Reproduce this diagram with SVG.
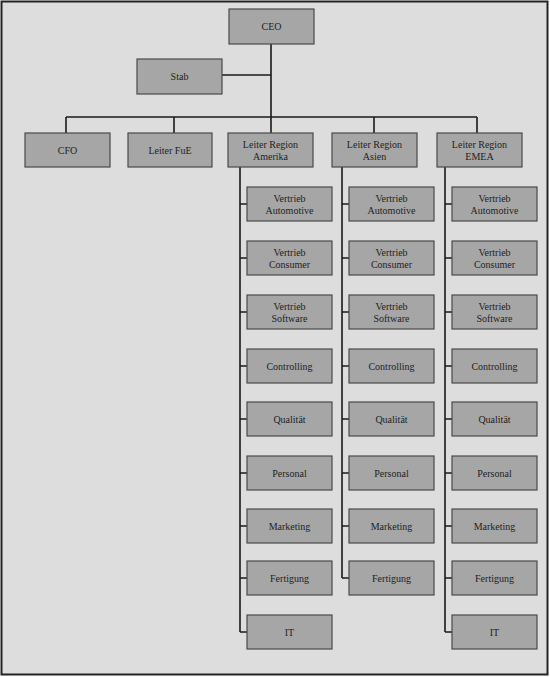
<svg xmlns="http://www.w3.org/2000/svg" width="550" height="677" viewBox="0 0 550 677">
<style>
.bx{fill:#a6a6a6;stroke:#4a4a4a;stroke-width:1.2}
.t{font-family:'Liberation Serif',serif;font-size:10px;fill:#1e1e1e;text-anchor:middle}
.ln{stroke:#1a1a1a;stroke-width:1.6;fill:none}
</style>
<rect x="1.5" y="1.5" width="546" height="673" fill="#dddddd" stroke="#222" stroke-width="2"/>
<g id="connectors" class="ln">
<path d="M271 44V133M222 75H271M66 117H477M66 117V133M174 117V133M374 117V133M477 117V133"/>
<path d="M240 167V632M342 167V578M445 167V632"/>
<path d="M240 204H247M240 258H247M240 312H247M240 366H247M240 419H247M240 473H247M240 526H247M240 578H247M240 632H247"/>
<path d="M342 204H349M342 258H349M342 312H349M342 366H349M342 419H349M342 473H349M342 526H349M342 578H349"/>
<path d="M445 204H452M445 258H452M445 312H452M445 366H452M445 419H452M445 473H452M445 526H452M445 578H452M445 632H452"/>
</g>
<g font-family="Liberation Serif, serif">
<g id="ceo"><rect class="bx" x="229" y="9" width="85" height="35"/><text class="t" x="271.5" y="30">CEO</text></g>
<g id="stab"><rect class="bx" x="137" y="59" width="85" height="35"/><text class="t" x="179.5" y="80">Stab</text></g>
<g id="cfo"><rect class="bx" x="25" y="133" width="85" height="34"/><text class="t" x="67.5" y="154">CFO</text></g>
<g id="fue"><rect class="bx" x="128" y="133" width="84" height="34"/><text class="t" x="170" y="154">Leiter FuE</text></g>
<g id="amerika"><rect class="bx" x="228" y="133" width="85" height="34"/><text class="t" x="270.5" y="148">Leiter Region</text><text class="t" x="270.5" y="160">Amerika</text></g>
<g id="asien"><rect class="bx" x="332" y="133" width="85" height="34"/><text class="t" x="374.5" y="148">Leiter Region</text><text class="t" x="374.5" y="160">Asien</text></g>
<g id="emea"><rect class="bx" x="437" y="133" width="85" height="34"/><text class="t" x="479.5" y="148">Leiter Region</text><text class="t" x="479.5" y="160">EMEA</text></g>

<g id="am-automotive"><rect class="bx" x="247" y="187" width="85" height="34"/><text class="t" x="289.5" y="202">Vertrieb</text><text class="t" x="289.5" y="214">Automotive</text></g>
<g id="am-consumer"><rect class="bx" x="247" y="241" width="85" height="34"/><text class="t" x="289.5" y="256">Vertrieb</text><text class="t" x="289.5" y="268">Consumer</text></g>
<g id="am-software"><rect class="bx" x="247" y="295" width="85" height="34"/><text class="t" x="289.5" y="310">Vertrieb</text><text class="t" x="289.5" y="322">Software</text></g>
<g id="am-controlling"><rect class="bx" x="247" y="349" width="85" height="34"/><text class="t" x="289.5" y="369.5">Controlling</text></g>
<g id="am-qualitaet"><rect class="bx" x="247" y="402" width="85" height="34"/><text class="t" x="289.5" y="422.5">Qualität</text></g>
<g id="am-personal"><rect class="bx" x="247" y="456" width="85" height="34"/><text class="t" x="289.5" y="476.5">Personal</text></g>
<g id="am-marketing"><rect class="bx" x="247" y="509" width="85" height="34"/><text class="t" x="289.5" y="529.5">Marketing</text></g>
<g id="am-fertigung"><rect class="bx" x="247" y="561" width="85" height="34"/><text class="t" x="289.5" y="581.5">Fertigung</text></g>
<g id="am-it"><rect class="bx" x="247" y="615" width="85" height="34"/><text class="t" x="289.5" y="635.5">IT</text></g>

<g id="as-automotive"><rect class="bx" x="349" y="187" width="85" height="34"/><text class="t" x="391.5" y="202">Vertrieb</text><text class="t" x="391.5" y="214">Automotive</text></g>
<g id="as-consumer"><rect class="bx" x="349" y="241" width="85" height="34"/><text class="t" x="391.5" y="256">Vertrieb</text><text class="t" x="391.5" y="268">Consumer</text></g>
<g id="as-software"><rect class="bx" x="349" y="295" width="85" height="34"/><text class="t" x="391.5" y="310">Vertrieb</text><text class="t" x="391.5" y="322">Software</text></g>
<g id="as-controlling"><rect class="bx" x="349" y="349" width="85" height="34"/><text class="t" x="391.5" y="369.5">Controlling</text></g>
<g id="as-qualitaet"><rect class="bx" x="349" y="402" width="85" height="34"/><text class="t" x="391.5" y="422.5">Qualität</text></g>
<g id="as-personal"><rect class="bx" x="349" y="456" width="85" height="34"/><text class="t" x="391.5" y="476.5">Personal</text></g>
<g id="as-marketing"><rect class="bx" x="349" y="509" width="85" height="34"/><text class="t" x="391.5" y="529.5">Marketing</text></g>
<g id="as-fertigung"><rect class="bx" x="349" y="561" width="85" height="34"/><text class="t" x="391.5" y="581.5">Fertigung</text></g>

<g id="em-automotive"><rect class="bx" x="452" y="187" width="85" height="34"/><text class="t" x="494.5" y="202">Vertrieb</text><text class="t" x="494.5" y="214">Automotive</text></g>
<g id="em-consumer"><rect class="bx" x="452" y="241" width="85" height="34"/><text class="t" x="494.5" y="256">Vertrieb</text><text class="t" x="494.5" y="268">Consumer</text></g>
<g id="em-software"><rect class="bx" x="452" y="295" width="85" height="34"/><text class="t" x="494.5" y="310">Vertrieb</text><text class="t" x="494.5" y="322">Software</text></g>
<g id="em-controlling"><rect class="bx" x="452" y="349" width="85" height="34"/><text class="t" x="494.5" y="369.5">Controlling</text></g>
<g id="em-qualitaet"><rect class="bx" x="452" y="402" width="85" height="34"/><text class="t" x="494.5" y="422.5">Qualität</text></g>
<g id="em-personal"><rect class="bx" x="452" y="456" width="85" height="34"/><text class="t" x="494.5" y="476.5">Personal</text></g>
<g id="em-marketing"><rect class="bx" x="452" y="509" width="85" height="34"/><text class="t" x="494.5" y="529.5">Marketing</text></g>
<g id="em-fertigung"><rect class="bx" x="452" y="561" width="85" height="34"/><text class="t" x="494.5" y="581.5">Fertigung</text></g>
<g id="em-it"><rect class="bx" x="452" y="615" width="85" height="34"/><text class="t" x="494.5" y="635.5">IT</text></g>
</g>
</svg>
